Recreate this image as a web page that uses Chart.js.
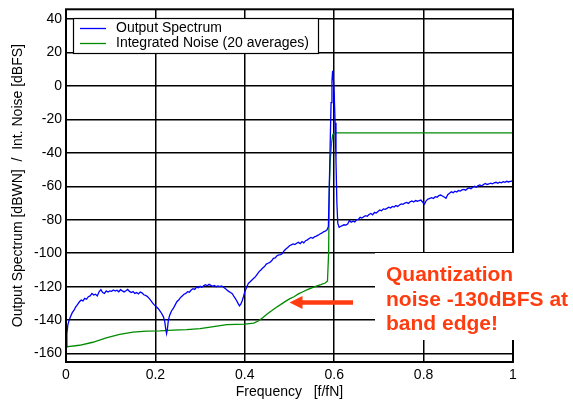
<!DOCTYPE html>
<html>
<head>
<meta charset="utf-8">
<script src="https://cdn.jsdelivr.net/npm/chart.js@4.4.1/dist/chart.umd.min.js"></script>
<style>
  html, body { margin: 0; padding: 0; background: #fff; }
  canvas { display: block; }
</style>
</head>
<body>
<canvas id="spectrumChart" width="573" height="404"></canvas>
<script>
// output spectrum of the modulator, normalised frequency vs dBWN
const freq = [
    0.000, 0.002, 0.004, 0.007, 0.010, 0.014, 0.018, 0.022, 0.026, 0.030,
    0.034, 0.038, 0.042, 0.046, 0.050, 0.054, 0.058, 0.062, 0.066, 0.070,
    0.074, 0.078, 0.082, 0.086, 0.090, 0.094, 0.098, 0.102, 0.106, 0.110,
    0.114, 0.118, 0.122, 0.126, 0.130, 0.134, 0.138, 0.142, 0.146, 0.150,
    0.154, 0.158, 0.162, 0.166, 0.170, 0.174, 0.178, 0.182, 0.186, 0.190,
    0.194, 0.198, 0.202, 0.206, 0.210, 0.214, 0.218, 0.221, 0.223, 0.225,
    0.227, 0.229, 0.232, 0.236, 0.240, 0.244, 0.248, 0.252, 0.256, 0.260,
    0.264, 0.268, 0.272, 0.276, 0.280, 0.284, 0.288, 0.292, 0.296, 0.300,
    0.304, 0.308, 0.312, 0.316, 0.320, 0.324, 0.328, 0.332, 0.336, 0.340,
    0.344, 0.348, 0.352, 0.356, 0.360, 0.364, 0.368, 0.372, 0.376, 0.380,
    0.384, 0.388, 0.391, 0.394, 0.397, 0.400, 0.404, 0.408, 0.412, 0.416,
    0.420, 0.424, 0.428, 0.432, 0.436, 0.440, 0.444, 0.448, 0.452, 0.456,
    0.460, 0.464, 0.468, 0.472, 0.476, 0.480, 0.484, 0.488, 0.492, 0.496,
    0.500, 0.504, 0.508, 0.512, 0.516, 0.520, 0.524, 0.528, 0.532, 0.536,
    0.540, 0.544, 0.548, 0.552, 0.556, 0.560, 0.564, 0.568, 0.572, 0.576,
    0.580, 0.584, 0.587, 0.589, 0.591, 0.593, 0.595, 0.5965, 0.598, 0.600,
    0.602, 0.604, 0.606, 0.608, 0.611, 0.614, 0.618, 0.622, 0.626, 0.630,
    0.634, 0.638, 0.642, 0.646, 0.650, 0.654, 0.658, 0.662, 0.666, 0.670,
    0.674, 0.678, 0.682, 0.686, 0.690, 0.694, 0.698, 0.702, 0.706, 0.710,
    0.714, 0.718, 0.722, 0.726, 0.730, 0.734, 0.738, 0.742, 0.746, 0.750,
    0.754, 0.758, 0.762, 0.766, 0.770, 0.774, 0.778, 0.782, 0.786, 0.790,
    0.794, 0.798, 0.802, 0.806, 0.810, 0.814, 0.818, 0.822, 0.826, 0.830,
    0.834, 0.838, 0.842, 0.846, 0.850, 0.854, 0.858, 0.862, 0.866, 0.870,
    0.874, 0.878, 0.882, 0.886, 0.890, 0.894, 0.898, 0.902, 0.906, 0.910,
    0.914, 0.918, 0.922, 0.926, 0.930, 0.934, 0.938, 0.942, 0.946, 0.950,
    0.954, 0.958, 0.962, 0.966, 0.970, 0.974, 0.978, 0.982, 0.986, 0.990,
    0.994, 1.000
];
const spectrum = [
    -156, -148, -143, -140, -138, -135.5, -134, -132, -130.5, -129,
    -128, -128.5, -127, -127.5, -126, -125.5, -124, -125, -124.5, -125.5,
    -123, -121.7, -123.5, -124, -122.5, -123.2, -122.5, -122.8, -122, -122.6,
    -122.1, -123, -121.8, -122.5, -123.1, -122.4, -121.6, -122.8, -123.5, -122.9,
    -124, -123.5, -124.3, -123.2, -123.7, -124.8, -125.2, -125.9, -127, -128.3,
    -129.8, -131, -132, -133, -134.5, -136, -138, -141, -145, -148,
    -145, -140, -137, -134.5, -133, -131, -129, -128, -126.5, -125.5,
    -124.5, -124, -123, -123.3, -122, -121.2, -121.6, -120.2, -120.6, -119.8,
    -120.3, -119.5, -118.8, -119.4, -118.6, -119.2, -119.8, -119.3, -120, -119.6,
    -119.9, -119.5, -120.2, -121, -122, -122.8, -123.5, -124.2, -126, -127.5,
    -129.5, -131.5, -130.5, -128.5, -126, -123, -120.5, -118, -117, -116,
    -115, -114, -112.5, -111, -110, -108.8, -108, -106.5, -106, -105.5,
    -104.5, -103, -102.8, -101.5, -101, -100.8, -100.2, -98.5, -97.5, -96.6,
    -95.5, -95, -94.4, -94.8, -94, -93.5, -94.3, -93, -93.8, -92.5,
    -92, -91.2, -90.6, -91.1, -90.2, -89.8, -89.2, -88.5, -88, -87.2,
    -86.8, -86, -84, -60, -35, -10, 3, 9, 5, -5,
    -22, -45, -70, -82, -84.5, -84, -83.5, -83, -83.2, -82.5,
    -80.5, -81.5, -80.8, -81.3, -80, -79.8, -78.5, -79, -78.2, -77.5,
    -77.9, -76.8, -76.2, -77, -75.5, -76, -75, -74.2, -74.6, -73.5,
    -73.8, -73.2, -72.5, -72.9, -72, -72.4, -71.5, -72, -71.2, -70.5,
    -70.8, -70, -69.6, -70.2, -69.2, -68.8, -69.4, -68.5, -68.9, -68.6,
    -68.2, -69.5, -70.6, -68.5, -67.6, -67.2, -66.8, -67.3, -66.2, -66.5,
    -65.6, -65.2, -65.8, -66.4, -67.2, -65, -64.2, -63.3, -63.8, -62.9,
    -63.4, -62.5, -62.8, -62.1, -61.8, -62.3, -61.4, -60.9, -61.5, -60.6,
    -59.9, -60.5, -59.6, -59.2, -59.8, -58.9, -58.3, -58.9, -58.6, -58.1,
    -58.5, -57.9, -57.6, -58.2, -57.5, -57.9, -57.2, -57.6, -57.0, -57.4,
    -57.1, -56.7
];

// integrated in-band noise, 20 averages, dBFS
const noiseFreq = [
    0.000, 0.030, 0.060, 0.090, 0.120, 0.150, 0.180, 0.210, 0.240, 0.270,
    0.300, 0.330, 0.360, 0.400, 0.420, 0.430, 0.440, 0.450, 0.460, 0.470,
    0.480, 0.490, 0.500, 0.510, 0.520, 0.530, 0.540, 0.550, 0.560, 0.570,
    0.580, 0.585, 0.5875, 0.589, 0.591, 0.594, 0.597, 0.603, 1.000
];
const noiseLevel = [
    -156, -155, -153.2, -150.6, -148.5, -147.2, -146.6, -146.4, -146, -145.6,
    -145, -143.9, -142.7, -142.4, -141.8, -140.5, -138.6, -136.3, -134.4, -132.4,
    -130.7, -128.9, -127.3, -126, -124.3, -123, -121.8, -120.7, -119.7, -118.8,
    -117.8, -116.5, -100, -62, -45, -34, -29, -28, -28
];

const xTicks = [0, 0.2, 0.4, 0.6, 0.8, 1];
const yTicks = [40, 20, 0, -20, -40, -60, -80, -100, -120, -140, -160];

const seriesNames = ['Output Spectrum', 'Integrated Noise (20 averages)'];
const seriesColors = ['#0000ff', '#008a00'];
const noteLines = ['Quantization', 'noise -130dBFS at', 'band edge!'];

const FONT = 'Arial, "Liberation Sans", sans-serif';
const RED = '#ff3c0f';

function toPoints(xs, ys) {
    return xs.map((x, i) => ({ x: x, y: ys[i] }));
}

// frame, legend box and the red note with its arrow
const overlay = {
    id: 'overlay',
    afterDraw(chart) {
        const ctx = chart.ctx;
        const area = chart.chartArea;
        const xs = chart.scales.x;
        const ys = chart.scales.y;
        ctx.save();

        ctx.strokeStyle = '#000';
        ctx.lineWidth = 2;
        ctx.strokeRect(area.left, area.top, area.right - area.left, area.bottom - area.top);

        // legend
        ctx.fillStyle = '#fff';
        ctx.fillRect(73, 18, 245, 35);
        ctx.lineWidth = 1.2;
        ctx.strokeRect(73.5, 18.5, 245, 35);
        ctx.font = '14px ' + FONT;
        ctx.textBaseline = 'middle';
        seriesNames.forEach((name, i) => {
            const y = 28.5 + i * 15;
            ctx.strokeStyle = seriesColors[i];
            ctx.lineWidth = 1.3;
            ctx.beginPath();
            ctx.moveTo(80, y);
            ctx.lineTo(106, y);
            ctx.stroke();
            ctx.fillStyle = '#000';
            ctx.fillText(name, 116, y);
        });

        // white block behind the note
        ctx.fillStyle = '#fff';
        ctx.fillRect(375, 253, 198, 87);

        ctx.fillStyle = RED;
        ctx.font = 'bold 21px ' + FONT;
        ctx.textBaseline = 'alphabetic';
        ctx.textAlign = 'left';
        noteLines.forEach((line, i) => {
            ctx.fillText(line, 386, 281 + i * 24.5);
        });

        // arrow pointing at the noise curve near f = 0.5
        const tipX = xs.getPixelForValue(0.5);
        const ay = ys.getPixelForValue(-129.5);
        ctx.strokeStyle = RED;
        ctx.lineWidth = 4.5;
        ctx.beginPath();
        ctx.moveTo(353, ay);
        ctx.lineTo(tipX + 10, ay);
        ctx.stroke();
        ctx.beginPath();
        ctx.moveTo(tipX, ay);
        ctx.lineTo(tipX + 13, ay - 6.5);
        ctx.lineTo(tipX + 13, ay + 6.5);
        ctx.closePath();
        ctx.fill();

        ctx.restore();
    }
};

new Chart(document.getElementById('spectrumChart'), {
    type: 'line',
    data: {
        datasets: [
            {
                label: seriesNames[0],
                data: toPoints(freq, spectrum),
                borderColor: seriesColors[0],
                borderWidth: 1.3,
                pointRadius: 0,
                tension: 0,
                fill: false
            },
            {
                label: seriesNames[1],
                data: toPoints(noiseFreq, noiseLevel),
                borderColor: seriesColors[1],
                borderWidth: 1.3,
                pointRadius: 0,
                tension: 0,
                fill: false
            }
        ]
    },
    options: {
        responsive: false,
        animation: false,
        events: [],
        layout: { padding: { top: 9.3, right: 60, left: 0, bottom: 0 } },
        plugins: {
            legend: { display: false },
            tooltip: { enabled: false }
        },
        scales: {
            x: {
                type: 'linear',
                min: 0,
                max: 1,
                afterBuildTicks: s => { s.ticks = xTicks.map(v => ({ value: v })); },
                afterFit: s => { s.height = 42; },
                grid: { color: '#000', lineWidth: 1.5, drawTicks: false },
                border: { display: false },
                ticks: {
                    padding: 5,
                    maxRotation: 0,
                    color: '#000',
                    font: { family: FONT, size: 14 },
                    callback: v => String(Math.round(v * 10) / 10)
                },
                title: {
                    display: true,
                    text: 'Frequency   [f/fN]',
                    color: '#000',
                    padding: { top: 0, bottom: 3 },
                    font: { family: FONT, size: 14 }
                }
            },
            y: {
                type: 'linear',
                min: -165,
                max: 45.8,
                afterBuildTicks: s => { s.ticks = yTicks.map(v => ({ value: v })); },
                afterFit: s => {
                    s.width = 66;
                    s.paddingTop = 0;
                    s.paddingBottom = 0;
                },
                grid: { color: '#000', lineWidth: 1.5, drawTicks: false },
                border: { display: false },
                ticks: {
                    padding: 4,
                    color: '#000',
                    font: { family: FONT, size: 14 }
                },
                title: {
                    display: true,
                    text: 'Output Spectrum [dBWN]  /  Int. Noise [dBFS]',
                    color: '#000',
                    padding: { top: 10, bottom: 0 },
                    font: { family: FONT, size: 14 }
                }
            }
        }
    },
    plugins: [overlay]
});
</script>
</body>
</html>
